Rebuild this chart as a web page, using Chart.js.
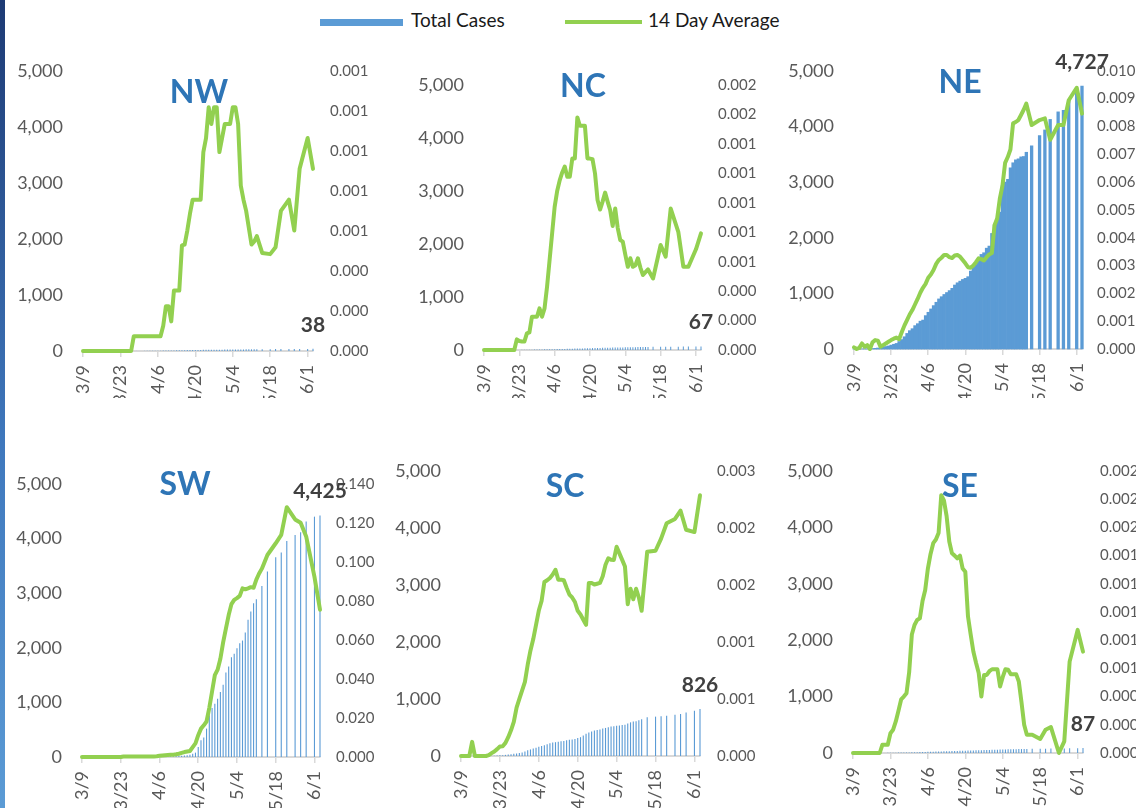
<!DOCTYPE html>
<html>
<head>
<meta charset="utf-8">
<script src="https://cdn.jsdelivr.net/npm/chart.js@4.4.0/dist/chart.umd.min.js"></script>
<style>
  body { margin: 0; width: 1136px; height: 808px; overflow: hidden; background: #fff; position: relative; font-family: Lato, sans-serif; }
  .strip { position: absolute; left: 0; top: 0; width: 5px; height: 808px; background: linear-gradient(to bottom, #1d3a74, #3f78bd 55%, #5b9bd5); }
  .sw-bar { position: absolute; left: 320px; top: 19px; width: 83px; height: 7px; background: #5b9bd5; }
  .sw-line { position: absolute; left: 565px; top: 20px; width: 77px; height: 3.5px; background: #92d050; }
  .lg-text { position: absolute; top: 8px; line-height: 24px; font-size: 19px; color: #1a1a1a; white-space: nowrap; }
  canvas { position: absolute; }
</style>
</head>
<body>
<div class="strip"></div>
<span class="sw-bar"></span><span class="lg-text" style="left:411px">Total Cases</span>
<span class="sw-line"></span><span class="lg-text" style="left:648px">14 Day Average</span>

<script>
const _ = null;

const dates = [
  '3/9','3/10','3/11','3/12','3/13','3/14','3/15',
  '3/16','3/17','3/18','3/19','3/20','3/21','3/22',
  '3/23','3/24','3/25','3/26','3/27','3/28','3/29',
  '3/30','3/31','4/1','4/2','4/3','4/4','4/5',
  '4/6','4/7','4/8','4/9','4/10','4/11','4/12',
  '4/13','4/14','4/15','4/16','4/17','4/18','4/19',
  '4/20','4/21','4/22','4/23','4/24','4/25','4/26',
  '4/27','4/28','4/29','4/30','5/1','5/2','5/3',
  '5/4','5/5','5/6','5/7','5/8','5/9','5/10',
  '5/11','5/12','5/13','5/14','5/15','5/16','5/17',
  '5/18','5/19','5/20','5/21','5/22','5/23','5/24',
  '5/25','5/26','5/27','5/28','5/29','5/30','5/31',
  '6/1','6/2','6/3'
];
const tickLabels = ['3/9', '3/23', '4/6', '4/20', '5/4', '5/18', '6/1'];

// ---- NW
const nwCases = [
  0,0,0,0,0,0,0,
  0,0,0,0,0,0,0,
  0,0,0,0,0,1,1,
  2,2,3,3,4,4,5,
  5,6,7,8,9,10,11,
  12,13,14,15,16,17,18,
  19,20,20,21,21,22,22,
  23,23,24,24,25,25,26,
  26,27,27,28,28,29,29,
  30,30,31,_,32,_,_,
  33,_,34,_,34,_,_,
  35,_,36,_,36,_,_,
  37,_,38
];
const nwAvg = [
  0,0,0,0,0,0,0,
  0,0,0,0,0,0,0,
  0,0,0,0,0,0.000074,0.000074,
  0.000074,0.000074,0.000074,0.000074,0.000074,0.000074,0.000074,
  0.000074,0.000074,0.000126,0.000224,0.000224,0.000148,0.000302,
  0.000302,0.000302,0.000528,0.000532,0.000602,0.000686,0.000756,
  0.000756,0.000756,0.000756,0.000994,0.001064,0.001218,0.001134,
  0.001218,0.001218,0.000994,0.001064,0.001134,0.001134,0.001134,
  0.001218,0.001218,0.001134,0.000826,0.000756,0.0007,0.000616,
  0.000532,0.000546,0.000574,_,0.00049,_,_,
  0.000484,_,0.000518,_,0.0007,_,_,
  0.000756,_,0.000602,_,0.00091,_,_,
  0.001064,_,0.00091
];

// ---- NC
const ncCases = [
  0,0,0,0,0,0,0,
  0,0,0,0,0,0,1,
  2,3,4,5,6,7,8,
  9,10,11,12,13,14,15,
  16,17,18,20,21,22,24,
  25,26,28,29,30,32,33,
  34,36,37,38,40,41,42,
  43,44,45,46,47,48,49,
  50,51,52,53,54,55,56,
  57,57,58,_,59,_,_,
  60,_,61,_,62,_,_,
  63,_,64,_,65,_,_,
  66,_,67
];
const ncAvg = [
  0,0,0,0,0,0,0,
  0,0,0,0,0,0,0.000072,
  0.000061,0.000058,0.000057,0.000113,0.00012,0.000226,0.000226,
  0.000226,0.000283,0.000226,0.000283,0.000432,0.000612,0.000792,
  0.000972,0.00108,0.001152,0.001206,0.001246,0.001177,0.001177,
  0.001301,0.001301,0.00158,0.001523,0.001523,0.001523,0.001301,
  0.0013,0.001296,0.001199,0.001019,0.000954,0.001008,0.001069,
  0.001008,0.00095,0.000842,0.000961,0.000828,0.000747,0.000736,
  0.000648,0.000565,0.000623,0.000565,0.000576,0.000623,0.000558,
  0.000509,0.000529,0.000547,_,0.000486,_,_,
  0.000713,_,0.000634,_,0.000961,_,_,
  0.000803,_,0.000565,_,0.000565,_,_,
  0.000684,_,0.000792
];

// ---- NE
const neCases = [
  0,0,0,1,2,3,5,
  8,12,18,25,35,45,55,
  70,85,100,135,170,220,280,
  330,365,420,455,500,520,600,
  660,720,780,840,900,940,980,
  1015,1050,1090,1150,1190,1220,1250,
  1270,1300,1400,1470,1520,1640,1700,
  1730,1812,1850,2077,2230,2350,2460,
  2940,3000,3050,3258,3347,3400,3418,
  3453,3460,3536,_,3653,_,_,
  3837,_,3937,_,4126,_,_,
  4262,_,4291,_,4468,_,_,
  4645,_,4727
];
const neAvg = [
  0.00006,0,0.00004,0.0002,0.00008,0.00014,0,
  0.00024,0.00032,0.0003,0.00008,0.00014,0.0002,0.00026,
  0.00032,0.00037,0.00041,0.00035,0.0006,0.00084,0.00104,
  0.00124,0.0014,0.0016,0.0018,0.00202,0.0022,0.00234,
  0.00256,0.00268,0.00284,0.00306,0.0032,0.00328,0.00338,
  0.00338,0.0033,0.00327,0.00336,0.00338,0.00332,0.0032,
  0.00308,0.00294,0.00292,0.003,0.00312,0.00326,0.00323,
  0.00318,0.0033,0.0034,0.00345,0.00445,0.00469,0.0054,
  0.00587,0.00669,0.0069,0.00717,0.00811,0.00816,0.00823,
  0.00841,0.0086,0.00882,_,0.00805,_,_,
  0.00823,_,0.00829,_,0.00752,_,_,
  0.00805,_,0.00805,_,0.00894,_,_,
  0.00939,_,0.00846
];

// ---- SW
const swCases = [
  0,0,0,0,0,0,0,
  0,0,0,0,0,0,0,
  0,0,0,0,0,0,0,
  0,0,0,0,2,3,4,
  5,6,8,10,12,14,17,
  20,24,28,33,42,60,80,
  183,305,355,520,763,897,975,
  1068,1189,1323,1548,1658,1829,1890,
  1994,2085,2133,2280,2512,2664,2816,
  2890,_,3134,_,3396,_,_,
  3659,_,3744,_,3958,_,_,
  4068,_,4117,_,4311,_,_,
  4402,_,4425
];
const swAvg = [
  0,0,0,0,0,0,0,
  0,0,0,0,0,0,0,
  0,0.00028,0.00028,0.00028,0.00028,0.00028,0.00028,
  0.00028,0.00028,0.00028,0.00028,0.00028,0.00028,0.00042,
  0.00067,0.00078,0.0009,0.001,0.00112,0.0012,0.0014,
  0.00168,0.0021,0.00252,0.0028,0.00308,0.00504,0.007,
  0.0112,0.01456,0.01624,0.0182,0.0252,0.0336,0.042,
  0.0448,0.0504,0.0588,0.0658,0.0728,0.0784,0.0806,
  0.0815,0.0826,0.0865,0.086,0.0865,0.0871,0.0868,
  0.091,0.0941,0.0966,_,0.1036,_,_,
  0.1096,_,0.1139,_,0.1281,_,_,
  0.1218,_,0.1201,_,0.1131,_,_,
  0.0924,_,0.0755
];

// ---- SC
const scCases = [
  0,0,0,0,0,0,0,
  0,0,0,2,4,6,9,
  12,15,20,25,30,38,45,
  52,62,80,100,115,132,145,
  160,175,190,205,222,235,242,
  250,258,265,276,283,290,300,
  315,330,360,391,410,430,445,
  455,466,480,492,505,515,522,
  530,535,542,550,570,590,603,
  609,625,644,_,678,_,_,
  690,_,695,_,707,_,_,
  724,_,736,_,764,_,_,
  793,_,826
];
const scAvg = [
  0,0,0,0,0.000124,0,0,
  0,0,0,0.0000075,0.000025,0.00004,0.00006,
  0.0000825,0.000086,0.000115,0.000165,0.000225,0.0003,0.000425,
  0.0005,0.000575,0.00065,0.0008,0.000925,0.001025,0.00115,
  0.001275,0.00136,0.001525,0.00154,0.00156,0.00159,0.001632,
  0.001546,0.001546,0.00154,0.001475,0.001415,0.00139,0.00135,
  0.001273,0.00124,0.001195,0.00115,0.001517,0.001517,0.001503,
  0.00151,0.001517,0.001575,0.001676,0.001733,0.00172,0.001719,
  0.001834,0.001776,0.001719,0.001661,0.001331,0.001466,0.001374,
  0.001466,0.001388,0.001273,_,0.00179,_,_,
  0.001799,_,0.001905,_,0.00204,_,_,
  0.002078,_,0.00215,_,0.001983,_,_,
  0.001963,_,0.002285
];

// ---- SE
const seCases = [
  0,0,0,0,0,0,0,
  0,0,0,0,1,2,3,
  4,5,6,7,8,9,10,
  11,12,13,14,16,17,19,
  20,22,23,25,26,28,29,
  31,32,34,35,37,38,40,
  41,43,44,46,47,49,50,
  52,53,55,56,58,59,61,
  62,64,65,66,67,68,69,
  70,71,72,_,74,_,_,
  76,_,77,_,78,_,_,
  80,_,82,_,84,_,_,
  86,_,87
];
const seAvg = [
  0,0,0,0,0,0,0,
  0,0,0,0,0.0000588,0.0000588,0.0000588,
  0.00014,0.000165,0.000224,0.0003,0.00038,0.0004,0.000424,
  0.000572,0.00084,0.000908,0.000944,0.000955,0.001078,0.001156,
  0.001308,0.001412,0.001488,0.001514,0.00156,0.001828,0.001792,
  0.00168,0.0015,0.001416,0.0014,0.00138,0.0014,0.001308,
  0.001285,0.000968,0.00084,0.00072,0.00064,0.000568,0.000401,
  0.000554,0.000554,0.00058,0.000594,0.000594,0.000594,0.000472,
  0.00054,0.000594,0.00059,0.000559,0.000559,0.000559,0.000507,
  0.00036,0.0002,0.00013,_,0.00013,_,_,
  0.0000992,_,0.000165,_,0.000184,_,_,
  0,_,0.0000824,_,0.000648,_,_,
  0.000873,_,0.000719
];

// layout of each panel on the page: box = [left, top, width, height], plot = [left, right, top, bottom]
const panels = [
  { name: 'NW', cases: nwCases, avg: nwAvg, rightMax: 0.0014, rightStep: 0.0002, box: [6, 40, 372, 358], plot: [83, 313, 68, 351], title: [199, 103], rPad: 17, solid: false },
  { name: 'NC', cases: ncCases, avg: ncAvg, rightMax: 0.0018, rightStep: 0.0002, box: [380, 40, 380, 358], plot: [484, 701, 85, 350], title: [583, 97], rPad: 17, solid: false },
  { name: 'NE', cases: neCases, avg: neAvg, rightMax: 0.010, rightStep: 0.001, box: [760, 40, 376, 358], plot: [854, 1082, 67, 349], title: [960, 93], rPad: 15, solid: true },
  { name: 'SW', cases: swCases, avg: swAvg, rightMax: 0.14, rightStep: 0.02, box: [6, 440, 374, 368], plot: [82, 320, 484, 757], title: [185, 495], rPad: 16, solid: false },
  { name: 'SC', cases: scCases, avg: scAvg, rightMax: 0.0025, rightStep: 0.0005, box: [380, 440, 380, 368], plot: [461, 700, 466, 756], title: [565, 497], rPad: 17, solid: false },
  { name: 'SE', cases: seCases, avg: seAvg, rightMax: 0.002, rightStep: 0.0002, box: [760, 440, 376, 368], plot: [853, 1083, 471, 753], title: [960, 497], rPad: 17, solid: false }
];

Chart.defaults.font.family = 'Lato, sans-serif';

// region name drawn inside the plot
const panelTitle = {
  id: 'panelTitle',
  afterDraw(chart, args, opts) {
    const ctx = chart.ctx;
    ctx.save();
    ctx.font = 'bold 32px Lato';
    ctx.fillStyle = '#2e75b6';
    ctx.textAlign = 'center';
    ctx.textBaseline = 'alphabetic';
    ctx.fillText(opts.text, opts.x, opts.y);
    ctx.restore();
  }
};

// value label above the last bar
const lastLabel = {
  id: 'lastLabel',
  afterDraw(chart) {
    const idx = chart.data.datasets.findIndex(d => d.type === 'bar');
    const data = chart.data.datasets[idx].data;
    let k = data.length - 1;
    while (k >= 0 && data[k] == null) k--;
    const bar = chart.getDatasetMeta(idx).data[k];
    const ctx = chart.ctx;
    ctx.save();
    ctx.font = 'bold 21px Lato';
    ctx.fillStyle = '#404040';
    ctx.textAlign = 'center';
    ctx.textBaseline = 'alphabetic';
    ctx.fillText(data[k].toLocaleString('en-US'), bar.x, bar.y - 17);
    ctx.restore();
  }
};

const fmt3 = v => (Math.round(v * 1000 + 1e-9) / 1000).toFixed(3);

function drawPanel(p) {
  const [bl, bt, bw, bh] = p.box;
  const [pl, pr, pt, pb] = p.plot;
  const canvas = document.createElement('canvas');
  canvas.width = bw;
  canvas.height = bh;
  canvas.style.left = bl + 'px';
  canvas.style.top = bt + 'px';
  document.body.appendChild(canvas);

  new Chart(canvas, {
    type: 'bar',
    plugins: [panelTitle, lastLabel],
    data: {
      labels: dates,
      datasets: [
        {
          type: 'line',
          label: '14 Day Average',
          data: p.avg,
          yAxisID: 'y1',
          borderColor: '#92d050',
          borderWidth: 4,
          pointRadius: 0,
          tension: 0,
          spanGaps: true,
          borderJoinStyle: 'round',
          borderCapStyle: 'round',
          clip: false,
          order: 0
        },
        {
          type: 'bar',
          label: 'Total Cases',
          data: p.cases,
          yAxisID: 'y',
          backgroundColor: '#5b9bd5',
          barPercentage: p.solid ? 1 : 0.4,
          categoryPercentage: 1,
          clip: false,
          order: 1
        }
      ]
    },
    options: {
      responsive: false,
      animation: false,
      layout: { padding: { top: pt - bt, left: 0, right: 0, bottom: 0 } },
      plugins: {
        legend: { display: false },
        tooltip: { enabled: false },
        panelTitle: { text: p.name, x: p.title[0] - bl, y: p.title[1] - bt }
      },
      scales: {
        x: {
          type: 'category',
          offset: false,
          grid: { offset: false, display: true, drawOnChartArea: false, drawTicks: true, tickLength: 6, color: '#d9d9d9', lineWidth: 1.5 },
          border: { display: true, color: '#d9d9d9', width: 2 },
          ticks: { autoSkip: false, minRotation: 90, maxRotation: 90, padding: 8, color: '#595959', font: { size: 18 } },
          afterBuildTicks: s => { s.ticks = s.ticks.filter(t => tickLabels.includes(dates[t.value])); },
          afterFit: s => { s.height = bt + bh - pb; }
        },
        y: {
          position: 'left',
          min: 0,
          max: 5000,
          grid: { display: false, drawTicks: false },
          border: { display: false },
          ticks: { stepSize: 1000, padding: 20, color: '#595959', font: { size: 18 }, callback: v => v.toLocaleString('en-US') },
          afterFit: s => { s.width = pl - bl; }
        },
        y1: {
          position: 'right',
          min: 0,
          max: p.rightMax,
          grid: { display: false, drawTicks: false },
          border: { display: false },
          ticks: { padding: p.rPad, color: '#595959', font: { size: 15 }, callback: v => fmt3(v) },
          afterBuildTicks: s => {
            const t = [];
            for (let k = 0; k * p.rightStep <= p.rightMax + 1e-12; k++) t.push({ value: k * p.rightStep });
            s.ticks = t;
          },
          afterFit: s => { s.width = bl + bw - pr; }
        }
      }
    }
  });
}

window.onload = () => {
  panels.forEach(drawPanel);
};
</script>
</body>
</html>
